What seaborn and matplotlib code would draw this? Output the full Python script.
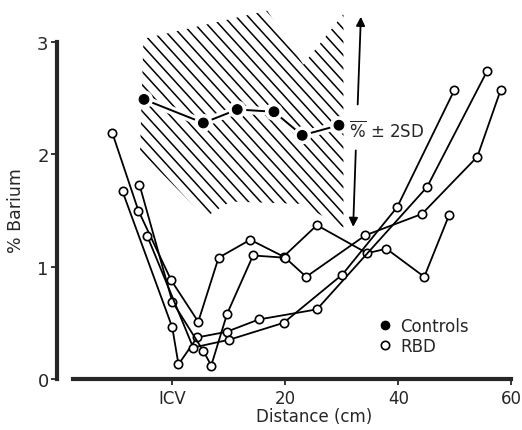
import matplotlib
matplotlib.use("Agg")
import matplotlib.pyplot as plt
import matplotlib.patheffects as pe
from matplotlib.collections import LineCollection
from matplotlib.lines import Line2D
from matplotlib.patches import Polygon
from matplotlib.transforms import IdentityTransform
import numpy as np
import pandas as pd
import seaborn as sns

# controls (filled dots): mean % barium along the colon
ctrl_x = [-5.0, 5.5, 11.5, 18.0, 23.0, 29.5]
ctrl_y = [2.49, 2.28, 2.40, 2.38, 2.17, 2.26]

# mean +/- 2SD band of the controls (outline of hatched area)
band_x = [-5.1, 16.8, 23.2, 30.3, 30.3, 22.7, 10.3, 5.8, -5.7]
band_y = [3.03, 3.28, 2.80, 3.25, 1.35, 1.56, 1.58, 1.44, 2.03]

# RBD patients (open circles), one list per patient
rbd1_x = [-10.6, -6.0, -0.2, 4.6, 8.2, 13.8, 19.7, 25.6, 34.5, 37.9, 44.6, 49.0]
rbd1_y = [2.19, 1.50, 0.88, 0.51, 1.08, 1.24, 1.09, 1.37, 1.12, 1.16, 0.91, 1.46]
rbd2_x = [-8.8, 0.0, 1.1, 4.4, 9.6, 15.3, 25.6, 45.1, 55.7]
rbd2_y = [1.67, 0.46, 0.13, 0.37, 0.42, 0.53, 0.62, 1.71, 2.74]
rbd3_x = [-5.8, 0.0, 5.5, 6.9, 9.7, 14.3, 20.0, 23.7, 34.2, 44.2, 54.0, 58.1]
rbd3_y = [1.73, 0.69, 0.25, 0.12, 0.58, 1.10, 1.08, 0.91, 1.28, 1.47, 1.98, 2.57]
rbd4_x = [-4.4, 3.7, 10.1, 19.7, 30.1, 39.8, 49.9]
rbd4_y = [1.27, 0.28, 0.35, 0.50, 0.93, 1.53, 2.57]

x_ticks = [0, 20, 40, 60]
x_ticklabels = ["ICV", "20", "40", "60"]
y_ticks = [0, 1, 2, 3]

rbd = pd.concat([
    pd.DataFrame({"dist": xs, "barium": ys, "patient": i})
    for i, (xs, ys) in enumerate([(rbd1_x, rbd1_y), (rbd2_x, rbd2_y),
                                  (rbd3_x, rbd3_y), (rbd4_x, rbd4_y)])
])
ctrl = pd.DataFrame({"dist": ctrl_x, "barium": ctrl_y})

sns.set_style("ticks")
plt.rcParams["font.family"] = ["DejaVu Sans"]

W, H = 522, 431
fig = plt.figure(figsize=(W / 100, H / 100), dpi=100)
ax = fig.add_axes([57 / W, 51 / H, 465 / W, 380 / H])

# hatched +/- 2SD band: diagonal strokes clipped to the band outline
band = Polygon(np.column_stack([band_x, band_y]), closed=True,
               facecolor="none", edgecolor="none")
ax.add_patch(band)
step, slope = 12, 1.1  # px between strokes, steepness of strokes
offsets = np.arange(0, W + H, step)
segs = [[(c - H / slope, H), (c, 0)] for c in offsets]
hatch = LineCollection(segs, colors="black", linewidths=1.1,
                       transform=IdentityTransform(), zorder=1)
ax.add_collection(hatch, autolim=False)
hatch.set_clip_path(band)

sns.lineplot(data=rbd, x="dist", y="barium", units="patient", estimator=None,
             sort=False, color="black", lw=1.3, marker="o", ms=6,
             markerfacecolor="white", markeredgecolor="black", mew=1.2,
             ax=ax, zorder=3)

sns.lineplot(data=ctrl, x="dist", y="barium", sort=False, color="black",
             lw=1.4, marker="o", ms=7, markerfacecolor="black",
             markeredgecolor="black", ax=ax, zorder=4,
             path_effects=[pe.Stroke(linewidth=6, foreground="white"), pe.Normal()])

# double arrow with label
ax.annotate("", xy=(33.4, 3.25), xytext=(32.8, 2.42),
            arrowprops=dict(arrowstyle="-|>", lw=1.3, color="black", mutation_scale=13))
ax.annotate("", xy=(32.0, 1.33), xytext=(32.5, 2.06),
            arrowprops=dict(arrowstyle="-|>", lw=1.3, color="black", mutation_scale=13))
ax.text(31.2, 2.21, r"$\overline{\%}$" + " ± 2SD", fontsize=12, va="center", ha="left",
        bbox=dict(facecolor="white", edgecolor="none", pad=0.5), zorder=5)

ax.set_xlim(-20.4, 61.9)
ax.set_ylim(0, 3.384)
ax.set_xticks(x_ticks)
ax.set_xticklabels(x_ticklabels)
ax.set_yticks(y_ticks)

sns.despine(ax=ax)
for side in ["left", "bottom"]:
    ax.spines[side].set_linewidth(3)
ax.spines["left"].set_bounds(0, 3)
ax.spines["bottom"].set_bounds(-17.5, 60)
ax.tick_params(axis="y", length=4, width=1.3, pad=2, labelsize=13)
ax.tick_params(axis="x", length=4, width=1.3, pad=3, labelsize=12)

ax.set_xlabel("Distance (cm)", fontsize=12)
ax.set_ylabel("% Barium", fontsize=12.5)
ax.xaxis.set_label_coords(0.553, -0.075)
ax.yaxis.set_label_coords(-0.069, 0.445)

handles = [
    Line2D([], [], ls="none", marker="o", ms=6, color="black"),
    Line2D([], [], ls="none", marker="o", ms=6, markerfacecolor="white",
           markeredgecolor="black", mew=1.2),
]
ax.legend(handles, ["Controls", "RBD"], loc="upper left", bbox_to_anchor=(0.673, 0.186),
          frameon=False, fontsize=12, handlelength=0.8, handletextpad=0.5,
          borderpad=0, labelspacing=0.15)

fig.savefig("out.png", dpi=100)
